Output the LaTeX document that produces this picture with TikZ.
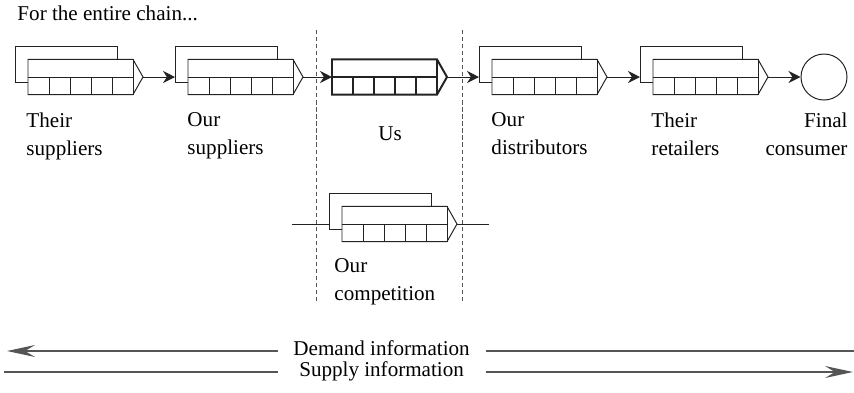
\documentclass[tikz,border=0pt]{standalone}
\usepackage{fontspec}
\setmainfont{Liberation Serif}
\usepackage{tikz}
\usetikzlibrary{arrows.meta, positioning, calc}
\definecolor{inkgray}{HTML}{222222}
\definecolor{rulegray}{HTML}{555555}
\newcommand{\lblfont}{\fontsize{15}{20}\selectfont}
% front part of a stage: top bar, five cells and the pointed end
\newcommand{\stagefront}{%
  \draw[fill=white] (0,-0.44) -- (2.625,-0.44) -- (2.875,0) -- (2.625,0.44) -- (0,0.44) -- cycle;
  \draw (0,0) -- (2.625,0);
  \draw (2.625,-0.44) -- (2.625,0.44);
  \foreach \k in {1,...,4} \draw (0.525*\k,-0.44) -- (0.525*\k,0);
  \coordinate (-out) at (2.875,0);
}

\begin{document}
\begin{tikzpicture}[
  line width=0.7pt, draw=inkgray,
  lbl/.style={inner sep=0pt, align=left, font=\lblfont, anchor=north west},
  flow/.style={-{Stealth[length=0.3cm, width=0.3cm]}},
  bigflow/.style={-{Stealth[length=0.7cm, width=0.3cm, inset=0.25cm]}, draw=rulegray, line width=0.9pt},
  divider/.style={dashed, dash pattern=on 3pt off 2pt, draw=rulegray},
  info/.style={inner sep=0pt, minimum width=5.175cm, text height=0.62em, text depth=0pt, font=\lblfont},
  stage/.pic={
    \draw[fill=white] (-0.325,-0.125) rectangle (2.225,0.775);
    \coordinate (-in) at (-0.325,0);
    \stagefront
  },
  ownstage/.pic={
    \coordinate (-in) at (0,0);
    \stagefront
  }
]
  \useasboundingbox (0,0) rectangle (21.35,-9.8);

  \node[lbl, anchor=base west] (title) at (0.425,-0.5) {For the entire chain...};

  % Boundaries of our own part
  \draw[divider] (7.9,-0.75) -- (7.9,-7.55);
  \draw[divider] (11.55,-0.75) -- (11.55,-7.55);

  % The chain
  \pic (ts) at (0.7,-1.925) {stage};
  \pic (os) at (4.7,-1.925) {stage};
  \pic[line width=1.4pt] (us) at (8.3,-1.925) {ownstage};
  \pic (od) at (12.3,-1.925) {stage};
  \pic (tr) at (16.325,-1.925) {stage};
  \node[draw, circle, minimum size=1.15cm, inner sep=0pt] (cons) at (20.6,-1.925) {};

  \draw[flow] (ts-out) -- (os-in);
  \draw[flow] (os-out) -- (us-in);
  \draw[flow] (us-out) -- (od-in);
  \draw[flow] (od-out) -- (tr-in);
  \draw[flow] (tr-out) -- (cons);

  % Labels
  \node[lbl] (tslbl) at (0.65,-2.81) {Their\\suppliers};
  \node[lbl] (oslbl) at (4.675,-2.81) {Our\\suppliers};
  \node[lbl, anchor=base] (uslbl) at (9.75,-3.5) {Us};
  \node[lbl] (odlbl) at (12.275,-2.81) {Our\\distributors};
  \node[lbl] (trlbl) at (16.275,-2.81) {Their\\retailers};
  \node[lbl, align=right, anchor=north east] (conslbl) at (21.2,-2.81) {Final\\consumer};

  % Competition
  \pic (comp) at (8.55,-5.6) {stage};
  \coordinate (rivL) at (7.3,-5.6);
  \coordinate (rivR) at (12.225,-5.6);
  \draw (rivL) -- (comp-in);
  \draw (comp-out) -- (rivR);
  \node[lbl] (complbl) at (8.35,-6.44) {Our\\competition};

  % Information flows
  \node[info] (dem) at (9.54,-8.775) {Demand information};
  \node[info] (sup) at (9.54,-9.3) {Supply information};
  \coordinate (demL) at (0.175,-8.775);
  \coordinate (demR) at (21.35,-8.775);
  \coordinate (supL) at (0.1,-9.3);
  \coordinate (supR) at (21.325,-9.3);
  \draw[bigflow] (dem.west) -- (demL);
  \draw[bigflow, -] (dem.east) -- (demR);
  \draw[bigflow, -] (sup.west) -- (supL);
  \draw[bigflow] (sup.east) -- (supR);
\end{tikzpicture}
\end{document}
